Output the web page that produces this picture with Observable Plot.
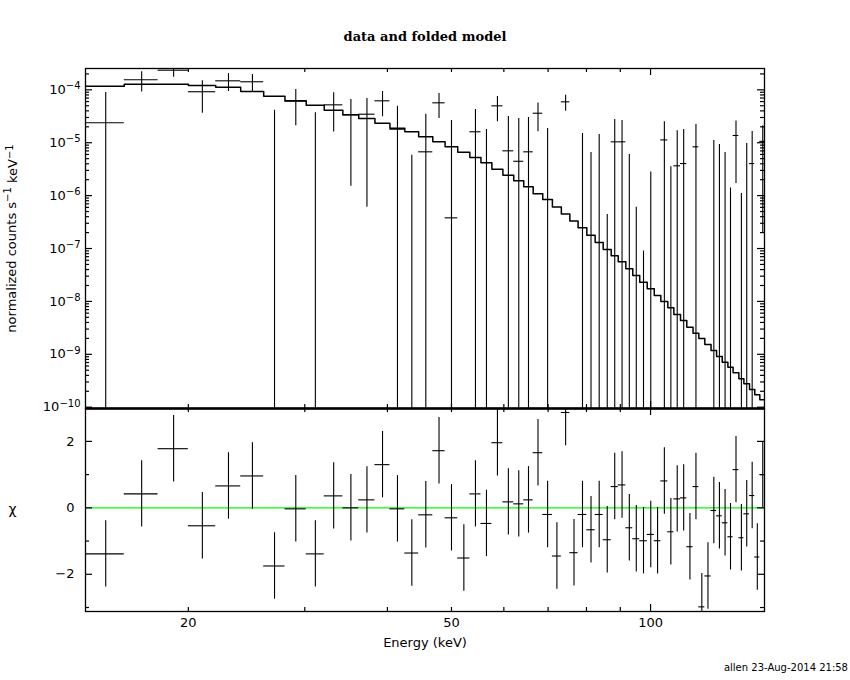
<!DOCTYPE html>
<html>
<head>
<meta charset="utf-8">
<script src="https://cdn.jsdelivr.net/npm/d3@7"></script>
<script src="https://cdn.jsdelivr.net/npm/@observablehq/plot@0.6"></script>
<style>
  html, body { margin: 0; padding: 0; background: #fff; }
  #wrap { position: relative; width: 850px; height: 680px; background: #fff; overflow: hidden; font-family: "DejaVu Sans", sans-serif; }
  #wrap svg { position: absolute; left: 0; top: 0; overflow: visible; }
  #title { position: absolute; top: 29px; left: 0; width: 850px; text-align: center; font-family: "DejaVu Serif", serif; font-size: 13px; font-weight: bold; line-height: 16px; }
  #footer { position: absolute; right: 2px; top: 662px; font-size: 10px; line-height: 12px; font-family: "DejaVu Sans", sans-serif; }
</style>
</head>
<body>
<div id="wrap">
  <div id="title">data and folded model</div>
  <div id="footer">allen 23-Aug-2014 21:58</div>
</div>
<script>
// ---- data (energy bin edges in keV, model, observed rate, 1-sigma error, chi) ----
const edges = [14, 16, 18, 20, 22, 24, 26, 28, 30.15, 32.1, 34.25, 36.2, 38.3, 40.35, 42.5, 44.6, 46.85, 48.9, 51.1, 53.3,
  55.4, 57.55, 59.8, 62.1, 64.3, 66.45, 68.7, 71.05, 73.3, 75.5, 77.7, 80.1, 82.45, 84.8, 87.2, 89.35, 91.75, 94.0, 96.3, 98.85,
  101.3, 103.65, 106.2, 108.45, 111.0, 113.45, 115.95, 118.3, 120.8, 123.45, 125.85, 128.35, 130.9, 133.3, 136.0, 138.4, 141.15,
  143.75, 146.3, 149.3];
const model = [1.17e-4, 1.28e-4, 1.28e-4, 1.21e-4, 1.12e-4, 9.3e-5, 7.6e-5, 6.2e-5, 5.1e-5, 4.1e-5, 3.37e-5, 2.87e-5, 2.34e-5,
  1.88e-5, 1.61e-5, 1.29e-5, 1.04e-5, 8.4e-6, 6.6e-6, 5.25e-6, 4.2e-6, 3.15e-6, 2.43e-6, 1.9e-6, 1.47e-6, 1.08e-6, 8.4e-7,
  6.1e-7, 4.5e-7, 3.3e-7, 2.46e-7, 1.78e-7, 1.3e-7, 9.6e-8, 7.3e-8, 5.6e-8, 4.13e-8, 3.09e-8, 2.31e-8, 1.73e-8, 1.29e-8,
  9.96e-9, 7.57e-9, 5.65e-9, 4.35e-9, 3.25e-9, 2.5e-9, 1.99e-9, 1.53e-9, 1.18e-9, 9.1e-10, 7.1e-10, 5.7e-10, 4.47e-10,
  3.44e-10, 2.77e-10, 2.16e-10, 1.72e-10, 1.38e-10];
const obs = [2.38e-5, 1.55e-4, 2.35e-4, 9.2e-5, 1.48e-4, 1.42e-4, -0.6e-5, 6.1e-5, -0.2e-5, 5.2e-5, 3.37e-5, 3.46e-5, 6.2e-5,
  1.8e-5, -2.3e-5, 6.73e-6, 5.68e-5, 3.8e-7, -3.27e-5, 1.61e-5, -0.79e-5, 4.98e-5, 7.03e-6, 4.46e-6, 6.73e-6, 3.61e-5,
  -0.36e-5, -3.13e-5, 5.93e-5, -2.8e-5, -0.34e-5, -1.22e-5, -0.35e-5, -1.756e-5, 1.04e-5, 1.04e-5, -0.9e-5, -1.44e-5,
  -1.491e-5, -1.09e-5, -1.41e-5, 1.13e-5, -0.9e-5, 3.66e-6, 4.04e-6, -1.52e-5, 8.37e-6, -3.87e-5, -2.67e-5, -0.1e-5,
  -0.29e-5, -0.54e-5, -0.95e-5, 1.37e-5, -0.99e-5, -0.21e-5, 4.04e-6, -1.78e-5, 1.06e-5];
const err = [6.5e-5, 0.64e-4, 0.62e-4, 5.6e-5, 0.55e-4, 0.52e-4, 4.7e-5, 4.0e-5, 3.9e-5, 3.6e-5, 3.22e-5, 3.4e-5, 3.1e-5,
  3.1e-5, 2.88e-5, 2.79e-5, 2.8e-5, 2.6e-5, 2.6e-5, 2.64e-5, 2.57e-5, 2.5e-5, 2.43e-5, 2.42e-5, 2.32e-5, 2.0e-5,
  2.21e-5, 2.2e-5, 2.0e-5, 2.1e-5, 1.83e-5, 1.87e-5, 1.78e-5, 1.8e-5, 1.71e-5, 1.59e-5, 1.5e-5, 1.5e-5,
  1.5e-5, 1.37e-5, 1.4e-5, 1.35e-5, 1.25e-5, 1.31e-5, 1.37e-5, 1.3e-5, 1.37e-5, 1.3e-5, 1.3e-5, 1.2e-5,
  1.22e-5, 1.19e-5, 1.09e-5, 1.2e-5, 1.1e-5, 1.18e-5, 1.23e-5, 1.2e-5, 1.04e-5];
const chi = [-1.386, 0.42, 1.78, -0.54, 0.66, 0.96, -1.75, -0.03, -1.386, 0.36, 0.0, 0.24, 1.30, -0.03, -1.36, -0.21, 1.72,
  -0.30, -1.51, 0.42, -0.47, 1.96, 0.18, 0.12, 0.24, 1.66, -0.20, -1.45, 2.87, -1.35, -0.20, -0.66, -0.20, -0.96, 0.64,
  0.69, -0.60, -0.93, -0.99, -0.80, -0.99, 0.81, -0.72, 0.27, 0.30, -1.17, 0.64, -2.98, -2.05, -0.08, -0.24, -0.45,
  -0.87, 1.15, -0.90, -0.18, 0.37, -1.48, 1.0];
const xTickLabels = [20, 50, 100];
const yDecadeExps = [-10, -9, -8, -7, -6, -5, -4];
const chiTickLabels = [-2, 0, 2];
const chiMinorTicks = [-3, -1, 1];

// ---- layout ----
const W = 850, L = 85, R = 764, T = 68, M = 408, B = 611;
const PW = R - L, H1 = M - T, H2 = B - M;
const xDomain = [13.98, 148.7];
const yDomain = [9.45e-11, 2.53e-4];
const chiDomain = [-3.12, 2.99];

const bins = model.map((m, i) => ({
  lo: edges[i], hi: edges[i + 1], x: (edges[i] + edges[i + 1]) / 2,
  model: m, obs: obs[i], err: err[i], chi: chi[i]
}));
const modelLine = bins.flatMap(b => [{x: b.lo, y: b.model}, {x: b.hi, y: b.model}]);
const vbars = bins.filter(b => b.obs + b.err > 0)
  .map(b => ({x: b.x, y1: Math.max(b.obs - b.err, 1e-13), y2: b.obs + b.err}));
const hbars = bins.filter(b => b.obs > 0);

const decades = yDecadeExps.map(n => Math.pow(10, n));
const minorY = [];
for (let n = -11; n <= -4; n++) for (let k = 2; k <= 9; k++) {
  const v = k * Math.pow(10, n);
  if (v > yDomain[0] && v < yDomain[1]) minorY.push(v);
}
const xMinor = [20, 30, 40, 50, 60, 70, 80, 90];
const xMajor = [100];
const ink = "black";

function xTicksFor(H) {
  return [
    Plot.tickX(xMinor, {x: d => d, stroke: ink, strokeWidth: 1.2, insetTop: H - 4}),
    Plot.tickX(xMajor, {x: d => d, stroke: ink, strokeWidth: 1.2, insetTop: H - 7}),
    Plot.tickX(xMinor, {x: d => d, stroke: ink, strokeWidth: 1.2, insetBottom: H - 4}),
    Plot.tickX(xMajor, {x: d => d, stroke: ink, strokeWidth: 1.2, insetBottom: H - 7})
  ];
}
function yTicksFor(major, minor) {
  return [
    Plot.tickY(minor, {y: d => d, stroke: ink, strokeWidth: 1.2, insetRight: PW - 4}),
    Plot.tickY(major, {y: d => d, stroke: ink, strokeWidth: 1.2, insetRight: PW - 7}),
    Plot.tickY(minor, {y: d => d, stroke: ink, strokeWidth: 1.2, insetLeft: PW - 4}),
    Plot.tickY(major, {y: d => d, stroke: ink, strokeWidth: 1.2, insetLeft: PW - 7})
  ];
}

const topPlot = Plot.plot({
  width: W, height: M,
  marginLeft: L, marginRight: W - R, marginTop: T, marginBottom: 0,
  x: {type: "log", domain: xDomain, axis: null},
  y: {type: "log", domain: yDomain, axis: null},
  style: {background: "transparent", fontFamily: "DejaVu Sans, sans-serif", fontSize: "13px", color: "black"},
  marks: [
    Plot.line(modelLine, {x: "x", y: "y", stroke: ink, strokeWidth: 1.5, clip: true}),
    Plot.ruleX(vbars, {x: "x", y1: "y1", y2: "y2", stroke: ink, strokeWidth: 1.1, clip: true}),
    Plot.ruleY(hbars, {y: "obs", x1: "lo", x2: "hi", stroke: ink, strokeWidth: 1.1, clip: true}),
    ...xTicksFor(H1),
    ...yTicksFor(decades, minorY),
    Plot.frame({stroke: ink, strokeWidth: 1.3}),
    Plot.ruleY([yDomain[0]], {stroke: ink, strokeWidth: 2.4}),
    Plot.text(decades, {y: d => d, text: d => String(Math.round(Math.log10(d))), frameAnchor: "left",
      textAnchor: "end", dx: -5, fill: ink, fontSize: 13, ariaLabel: () => "ydecade"}),
    Plot.text(["normalized counts s|−1| keV|−1"], {frameAnchor: "left", textAnchor: "middle", dx: -74, rotate: -90,
      fill: ink, fontSize: 13, ariaLabel: () => "ylabel"})
  ]
});

const botPlot = Plot.plot({
  width: W, height: 680,
  marginLeft: L, marginRight: W - R, marginTop: M, marginBottom: 680 - B,
  x: {type: "log", domain: xDomain, axis: null},
  y: {domain: chiDomain, axis: null},
  style: {background: "transparent", fontFamily: "DejaVu Sans, sans-serif", fontSize: "13px", color: "black"},
  marks: [
    Plot.ruleY([0], {stroke: "#00ff00", strokeWidth: 1.2}),
    Plot.ruleX(bins, {x: "x", y1: d => d.chi - 1, y2: d => d.chi + 1, stroke: ink, strokeWidth: 1.1, clip: true}),
    Plot.ruleY(bins, {y: "chi", x1: "lo", x2: "hi", stroke: ink, strokeWidth: 1.1, clip: true}),
    ...xTicksFor(H2),
    ...yTicksFor(chiTickLabels, chiMinorTicks),
    Plot.frame({stroke: ink, strokeWidth: 1.3}),
    Plot.text(chiTickLabels, {y: d => d, text: d => (d < 0 ? "−" + (-d) : String(d)), frameAnchor: "left",
      textAnchor: "end", dx: -11, fill: ink, fontSize: 13}),
    Plot.text(xTickLabels, {x: d => d, text: d => String(d), frameAnchor: "bottom", lineAnchor: "top",
      dy: 6, fill: ink, fontSize: 13}),
    Plot.text(["Energy (keV)"], {frameAnchor: "bottom", lineAnchor: "top", dy: 26, fill: ink, fontSize: 13}),
    Plot.text(["χ"], {frameAnchor: "left", textAnchor: "middle", dx: -73, fill: ink, fontSize: 14})
  ]
});

// superscripts as real text spans
function textsLabelled(root, label) {
  const out = [];
  root.querySelectorAll('[aria-label="' + label + '"]').forEach(el => {
    if (el.tagName.toLowerCase() === "text") out.push(el);
    else el.querySelectorAll("text").forEach(t => out.push(t));
  });
  if (out.length === 0) {
    root.querySelectorAll("text").forEach(t => {
      const s = t.textContent;
      if (label === "ydecade" && /^-\d+$/.test(s)) out.push(t);
      if (label === "ylabel" && s.indexOf("|") >= 0) out.push(t);
    });
  }
  return out;
}
textsLabelled(topPlot, "ydecade").forEach(t => {
  const e = t.textContent;
  const s = d3.select(t);
  s.text(null);
  s.append("tspan").text("10");
  s.append("tspan").attr("dy", "-0.45em").attr("font-size", "10px").text("−" + (-Number(e)));
});
textsLabelled(topPlot, "ylabel").forEach(t => {
  const parts = t.textContent.split("|");
  const s = d3.select(t);
  s.text(null);
  s.append("tspan").text(parts[0]);
  s.append("tspan").attr("dy", "-0.45em").attr("font-size", "10px").text(parts[1]);
  s.append("tspan").attr("dy", "0.45em").text(parts[2]);
  s.append("tspan").attr("dy", "-0.45em").attr("font-size", "10px").text(parts[3]);
});

const wrap = document.getElementById("wrap");
wrap.appendChild(topPlot);
wrap.appendChild(botPlot);
</script>
</body>
</html>
